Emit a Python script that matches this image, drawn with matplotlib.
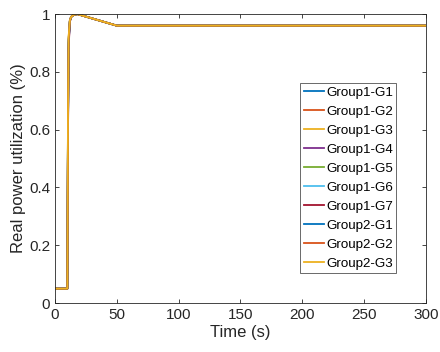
import matplotlib
matplotlib.use("Agg")
import matplotlib.pyplot as plt

plt.rcParams['font.family'] = ['Liberation Sans', 'DejaVu Sans']

labels = ["Group1-G1", "Group1-G2", "Group1-G3", "Group1-G4", "Group1-G5",
          "Group1-G6", "Group1-G7", "Group2-G1", "Group2-G2", "Group2-G3"]
colors = ["#0072BD", "#D95319", "#EDB120", "#7E2F8E", "#77AC30",
          "#4DBEEE", "#A2142F", "#0072BD", "#D95319", "#EDB120"]

# time points (s)
time = [0, 10, 10.5, 11, 12, 13, 15, 18, 50, 300]
# utilization per generator
series = [
    [0.05, 0.05, 0.60, 0.90, 0.975, 0.99, 0.997, 1.0, 0.96, 0.96],
    [0.05, 0.05, 0.62, 0.91, 0.977, 0.99, 0.997, 1.0, 0.96, 0.96],
    [0.05, 0.05, 0.64, 0.92, 0.978, 0.99, 0.997, 1.0, 0.96, 0.96],
    [0.05, 0.05, 0.58, 0.89, 0.974, 0.99, 0.997, 1.0, 0.96, 0.96],
    [0.05, 0.05, 0.61, 0.90, 0.976, 0.99, 0.997, 1.0, 0.96, 0.96],
    [0.05, 0.05, 0.63, 0.91, 0.977, 0.99, 0.997, 1.0, 0.96, 0.96],
    [0.05, 0.05, 0.57, 0.88, 0.973, 0.99, 0.997, 1.0, 0.96, 0.96],
    [0.05, 0.05, 0.60, 0.90, 0.975, 0.99, 0.997, 1.0, 0.96, 0.96],
    [0.05, 0.05, 0.62, 0.91, 0.977, 0.99, 0.997, 1.0, 0.96, 0.96],
    [0.05, 0.05, 0.65, 0.92, 0.978, 0.99, 0.997, 1.0, 0.96, 0.96],
]

fig = plt.figure(figsize=(4.4, 3.52), dpi=100)
ax = fig.add_axes([0.125, 0.139, 0.843, 0.821])
for lab, c, v in zip(labels, colors, series):
    ax.plot(time, v, color=c, lw=1.3, label=lab)

ax.set_xlim(0, 300)
ax.set_ylim(0, 1)
ax.set_xticks([0, 50, 100, 150, 200, 250, 300])
ax.set_yticks([0, 0.2, 0.4, 0.6, 0.8, 1])
ax.set_yticklabels(["0", "0.2", "0.4", "0.6", "0.8", "1"])
ax.tick_params(direction='in', top=True, right=True, labelsize=11, length=3,
               width=0.6, colors='#262626')
for s in ax.spines.values():
    s.set_linewidth(0.6)
    s.set_color('#262626')
ax.set_xlabel("Time (s)", fontsize=12, color='#262626', labelpad=2)
ax.set_ylabel("Real power utilization (%)", fontsize=12, color='#262626', labelpad=2)

leg = ax.legend(loc='upper left', bbox_to_anchor=(0.661, 0.761), fontsize=9.6,
                frameon=True, fancybox=False, handlelength=1.5, handletextpad=0.2,
                borderpad=0.25, labelspacing=0.5, borderaxespad=0)
leg.get_frame().set_edgecolor('#262626')
leg.get_frame().set_linewidth(0.6)

fig.savefig("out.png", dpi=100)
